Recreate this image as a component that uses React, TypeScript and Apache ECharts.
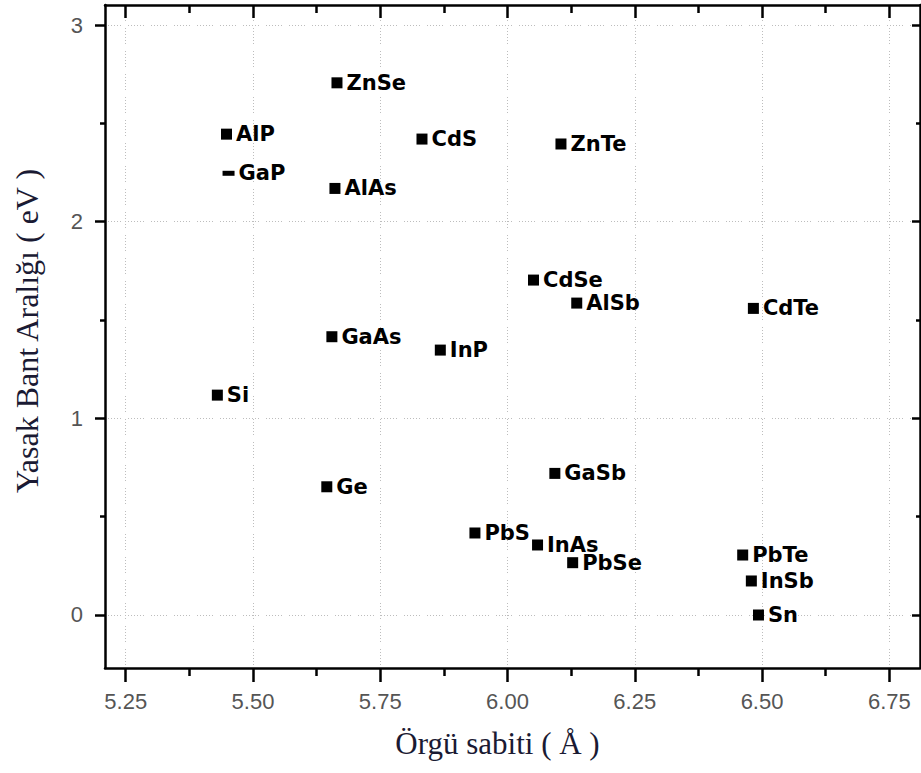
import React, { useEffect, useRef } from "react";
import * as echarts from "echarts";

const compounds = ["ZnSe", "AlP", "GaP", "CdS", "ZnTe", "AlAs", "CdSe", "AlSb", "CdTe", "GaAs", "InP", "Si", "Ge", "GaSb", "PbS", "InAs", "PbSe", "PbTe", "InSb", "Sn"];
const latticeConstants = [5.665, 5.448, 5.452, 5.832, 6.105, 5.661, 6.051, 6.136, 6.483, 5.655, 5.868, 5.43, 5.645, 6.093, 5.936, 6.059, 6.128, 6.462, 6.479, 6.493];
const bandGaps = [2.706, 2.445, 2.246, 2.42, 2.395, 2.169, 1.703, 1.586, 1.559, 1.415, 1.347, 1.118, 0.652, 0.72, 0.417, 0.356, 0.266, 0.305, 0.173, 0.0];

const xMajorTicks = [5.25, 5.5, 5.75, 6.0, 6.25, 6.5, 6.75];
const xMinorTicks = [5.375, 5.625, 5.875, 6.125, 6.375, 6.625];
const yMajorTicks = [0, 1, 2, 3];
const yMinorTicks = [0.5, 1.5, 2.5];

const X_MIN = 5.2093;
const X_MAX = 6.8103;
const Y_MIN = -0.2695;
const Y_MAX = 3.1017;

const xTitle = "Örgü sabiti ( Å )";
const yTitle = "Yasak Bant Aralığı ( eV )";

export default function App() {
  const ref = useRef<HTMLDivElement>(null);
  useEffect(() => {
    if (!ref.current) return;
    const chart = echarts.init(ref.current, null, { renderer: "svg" });
    const lineStyle = { color: "#000", width: 2.5 };
    const tickLine = { color: "#000", width: 2.5 };
    const splitLine = {
      show: true,
      lineStyle: { color: "#bdbdbd", type: [1, 2, 1, 2, 1, 2, 1, 2, 1, 2, 1, 7], width: 1 },
    };
    const labelFont = { color: "#555", fontSize: 22, fontFamily: "Liberation Sans, Arial, sans-serif" };
    const titleFont = { color: "#1a1a33", fontSize: 31, fontFamily: "Liberation Serif, Times New Roman, serif" };

    const baseX = { type: "value", min: X_MIN, max: X_MAX, gridIndex: 0 };
    const baseY = { type: "value", min: Y_MIN, max: Y_MAX, gridIndex: 0 };

    const data = compounds.map((n, i) => ({
      name: n,
      value: [latticeConstants[i], bandGaps[i]],
      symbolSize: n === "GaP" ? [12, 5] : 11,
    }));

    chart.setOption({
      animation: false,
      backgroundColor: "#fff",
      grid: { left: 105, right: 1, top: 5, bottom: 105, containLabel: false },
      xAxis: [
        {
          ...baseX,
          position: "bottom",
          name: xTitle,
          nameLocation: "middle",
          nameGap: 60,
          nameTextStyle: { ...titleFont, padding: [0, 30, 0, 0] },
          axisLine: { show: true, onZero: false, lineStyle },
          axisTick: { show: true, inside: false, length: 14, customValues: xMajorTicks, lineStyle: tickLine },
          axisLabel: { show: true, margin: 22, customValues: xMajorTicks, formatter: (v: number) => v.toFixed(2), ...labelFont },
          splitLine,
        },
        {
          ...baseX,
          position: "bottom",
          axisLine: { show: false, onZero: false },
          axisTick: { show: true, inside: false, length: 8, customValues: xMinorTicks, lineStyle: tickLine },
          axisLabel: { show: false },
          splitLine: { show: false },
        },
        {
          ...baseX,
          position: "top",
          axisLine: { show: true, onZero: false, lineStyle },
          axisTick: { show: true, inside: true, length: 13, customValues: xMajorTicks, lineStyle: tickLine },
          axisLabel: { show: false },
          splitLine: { show: false },
        },
        {
          ...baseX,
          position: "top",
          axisLine: { show: false, onZero: false },
          axisTick: { show: true, inside: true, length: 8, customValues: xMinorTicks, lineStyle: tickLine },
          axisLabel: { show: false },
          splitLine: { show: false },
        },
      ],
      yAxis: [
        {
          ...baseY,
          position: "left",
          name: yTitle,
          nameLocation: "middle",
          nameGap: 62,
          nameTextStyle: { ...titleFont, fontSize: 32, padding: [0, 0, 0, 11] },
          axisLine: { show: true, onZero: false, lineStyle },
          axisTick: { show: true, inside: false, length: 10, customValues: yMajorTicks, lineStyle: tickLine },
          axisLabel: { show: true, margin: 22, customValues: yMajorTicks, formatter: (v: number) => String(Math.round(v)), ...labelFont },
          splitLine,
        },
        {
          ...baseY,
          position: "left",
          axisLine: { show: false, onZero: false },
          axisTick: { show: true, inside: false, length: 5, customValues: yMinorTicks, lineStyle: tickLine },
          axisLabel: { show: false },
          splitLine: { show: false },
        },
        {
          ...baseY,
          position: "right",
          axisLine: { show: true, onZero: false, lineStyle },
          axisTick: { show: true, inside: true, length: 8, customValues: yMajorTicks, lineStyle: tickLine },
          axisLabel: { show: false },
          splitLine: { show: false },
        },
        {
          ...baseY,
          position: "right",
          axisLine: { show: false, onZero: false },
          axisTick: { show: true, inside: true, length: 4, customValues: yMinorTicks, lineStyle: tickLine },
          axisLabel: { show: false },
          splitLine: { show: false },
        },
      ],
      series: [
        {
          type: "scatter",
          xAxisIndex: 0,
          yAxisIndex: 0,
          symbol: "rect",
          itemStyle: { color: "#000", opacity: 1 },
          data,
          label: {
            show: true,
            position: "right",
            distance: 4,
            formatter: "{b}",
            color: "#000",
            fontSize: 21,
            fontWeight: "bold",
            fontFamily: "DejaVu Sans, sans-serif",
          },
          emphasis: { disabled: true },
        },
      ],
    });
    return () => chart.dispose();
  }, []);
  return (
    <div
      ref={ref}
      style={{ position: "absolute", left: 0, top: 0, width: 921, height: 773 }}
    />
  );
}
